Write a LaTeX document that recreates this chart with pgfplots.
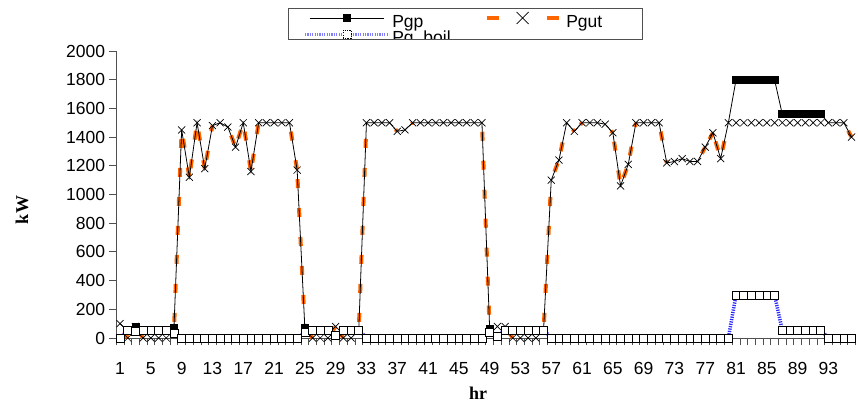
\documentclass[border=0pt]{standalone}
\usepackage{pgfplots}
\pgfplotsset{compat=1.18}
\usepackage{pgfplotstable}
\usepackage{fontspec}
\setmainfont{Liberation Sans}
\newfontfamily\labelfont{Liberation Serif}
\definecolor{gutorange}{RGB}{255,102,0}
\definecolor{boilblue}{RGB}{40,40,255}
\definecolor{axgray}{RGB}{80,80,80}

% hr, Pgp, Pgut, Pg_boil, and the step to the next hour (du, dv) of Pgut
\pgfplotstableread{
hr Pgp Pgut Pgboil du dv
1 100 100 0 1 -100
2 50 0 50 1 80
3 80 80 45 1 -80
4 50 0 50 1 0
5 50 0 50 1 0
6 50 0 50 1 0
7 50 0 50 1 50
8 70 50 35 1 1400
9 1450 1450 0 1 -330
10 1120 1120 0 1 380
11 1500 1500 0 1 -320
12 1180 1180 0 1 300
13 1480 1480 0 1 20
14 1500 1500 0 1 -30
15 1470 1470 0 1 -140
16 1330 1330 0 1 170
17 1500 1500 0 1 -340
18 1160 1160 0 1 340
19 1500 1500 0 1 0
20 1500 1500 0 1 0
21 1500 1500 0 1 0
22 1500 1500 0 1 0
23 1500 1500 0 1 -330
24 1170 1170 0 1 -1100
25 70 70 40 1 -70
26 55 0 55 1 0
27 55 0 55 1 0
28 55 0 55 1 80
29 25 80 20 1 -80
30 55 0 55 1 0
31 55 0 55 1 50
32 55 50 55 1 1450
33 1500 1500 0 1 0
34 1500 1500 0 1 0
35 1500 1500 0 1 0
36 1500 1500 0 1 -60
37 1440 1440 0 1 10
38 1450 1450 0 1 50
39 1500 1500 0 1 0
40 1500 1500 0 1 0
41 1500 1500 0 1 0
42 1500 1500 0 1 0
43 1500 1500 0 1 0
44 1500 1500 0 1 0
45 1500 1500 0 1 0
46 1500 1500 0 1 0
47 1500 1500 0 1 0
48 1500 1500 0 1 -1440
49 65 60 38 1 20
50 10 80 10 1 0
51 55 80 55 1 -80
52 55 0 55 1 0
53 55 0 55 1 0
54 55 0 55 1 0
55 55 0 55 1 50
56 55 50 55 1 1050
57 1100 1100 0 1 140
58 1240 1240 0 1 260
59 1500 1500 0 1 -60
60 1440 1440 0 1 60
61 1500 1500 0 1 0
62 1500 1500 0 1 0
63 1500 1500 0 1 -10
64 1490 1490 0 1 -60
65 1430 1430 0 1 -370
66 1060 1060 0 1 150
67 1210 1210 0 1 290
68 1500 1500 0 1 0
69 1500 1500 0 1 0
70 1500 1500 0 1 0
71 1500 1500 0 1 -280
72 1220 1220 0 1 10
73 1230 1230 0 1 20
74 1250 1250 0 1 -20
75 1230 1230 0 1 0
76 1230 1230 0 1 100
77 1330 1330 0 1 100
78 1430 1430 0 1 -180
79 1250 1250 0 1 250
80 1500 1500 0 1 0
81 1800 1500 300 1 0
82 1800 1500 300 1 0
83 1800 1500 300 1 0
84 1800 1500 300 1 0
85 1800 1500 300 1 0
86 1800 1500 300 1 0
87 1560 1500 55 1 0
88 1560 1500 55 1 0
89 1560 1500 55 1 0
90 1560 1500 55 1 0
91 1560 1500 55 1 0
92 1560 1500 55 1 0
93 1500 1500 0 1 0
94 1500 1500 0 1 0
95 1500 1500 0 1 -100
96 1400 1400 0 0 0
}\datatable

\begin{document}
\begin{tikzpicture}
\useasboundingbox (0pt,0pt) rectangle (858pt,406pt);
\begin{axis}[
  at={(116.2pt,68pt)}, anchor=south west,
  scale only axis, width=739.2pt, height=287pt,
  xmin=0.5, xmax=96.5, ymin=0, ymax=2000,
  clip=false,
  axis x line*=bottom, axis y line*=left,
  axis line style={axgray, line width=0.8pt},
  ytick={0,200,...,2000},
  xtick={0.5,1.5,...,96.5},
  xticklabels={},
  extra x ticks={1,5,...,93},
  extra x tick labels={1,5,9,13,17,21,25,29,33,37,41,45,49,53,57,61,65,69,73,77,81,85,89,93},
  extra x tick style={major tick length=0pt, xticklabel style={anchor=base, inner sep=0pt, yshift=-36pt}},
  tick align=outside,
  major tick length=7pt,
  tick style={axgray, line width=0.8pt},
  /pgf/number format/assume math mode=true,
  /pgf/number format/1000 sep={},
  tick label style={font=\fontsize{17.5}{20}\selectfont},
  yticklabel style={anchor=east, inner sep=0pt, xshift=-4pt},
  xlabel={\labelfont\bfseries hr},
  ylabel={\labelfont\bfseries kW},
  label style={font=\fontsize{18}{20}\selectfont},
  xlabel style={at={(axis description cs:0.4895,0)}, anchor=base, yshift=-61pt},
  ylabel style={at={(axis description cs:-0.1274,0.446)}, anchor=center},
  legend columns=2,
  legend cell align=left,
  legend style={at={(axis description cs:0.2527,1.138)}, anchor=north west,
    draw=none, fill=none, inner sep=0pt, row sep=-2.7pt,
    nodes={inner sep=0pt},
    font=\fontsize{17.5}{18}\selectfont,
    /tikz/every odd column/.append style={column sep=1.6pt},
    /tikz/every even column/.append style={column sep=34pt}},
]
% orange dashed Pgut line, one stroke per hour step
\addplot[forget plot, gutorange, line width=4pt, dash pattern=on 9pt off 20pt, dash phase=20pt,
  quiver={u=\thisrow{du}, v=\thisrow{dv}}]
  table[x=hr, y=Pgut]{\datatable};
\addplot[black, line width=0.8pt, mark=square*, mark size=3.5pt,
  mark indices={3,8,25,49,81,82,83,84,85,86,87,88,89,90,91,92},
  legend image code/.code={\path[draw=none] (0pt,7pt) (84pt,7pt);
    \draw[black, line width=0.8pt] (5pt,7pt) -- (79pt,7pt);
    \fill[black] (38.5pt,3.5pt) rectangle (45.5pt,10.5pt);}]
  table[x=hr, y=Pgp]{\datatable};
\addlegendentry[text height=10.3pt, text depth=5.1pt]{Pgp}
\addplot[only marks, mark=x, mark size=5pt, mark options={black, solid, line width=0.7pt},
  legend image code/.code={\path[draw=none] (0pt,7pt) (78pt,7pt);
    \draw[gutorange, line width=4pt] (0pt,7pt) -- (12pt,7pt);
    \draw[gutorange, line width=4pt] (60pt,7pt) -- (72pt,7pt);
    \draw[black, line width=0.7pt] (30pt,1pt) -- (42pt,13pt) (30pt,13pt) -- (42pt,1pt);}]
  table[x=hr, y=Pgut]{\datatable};
\addlegendentry[text height=10.3pt, text depth=5.1pt]{Pgut}
\addplot[boilblue, line width=3.5pt, dash pattern=on 1.2pt off 1.2pt,
  mark=square*, mark size=4pt, mark options={solid, fill=white, draw=black, line width=0.7pt},
  legend image code/.code={\draw[boilblue!60, line width=3.5pt, dash pattern=on 1.2pt off 1.2pt] (0pt,7pt) -- (84pt,7pt);
    \draw[black, fill=white, line width=0.7pt] (38pt,3pt) rectangle (46pt,11pt);}]
  table[x=hr, y=Pgboil]{\datatable};
\addlegendentry[text height=10.3pt, text depth=5.1pt]{Pg\_boil}
\end{axis}
\fill[white] (285pt,366.5pt) rectangle (646pt,356pt);
\draw[axgray, line width=0.8pt] (288pt,398pt) rectangle (642.5pt,367pt);
\end{tikzpicture}
\end{document}
